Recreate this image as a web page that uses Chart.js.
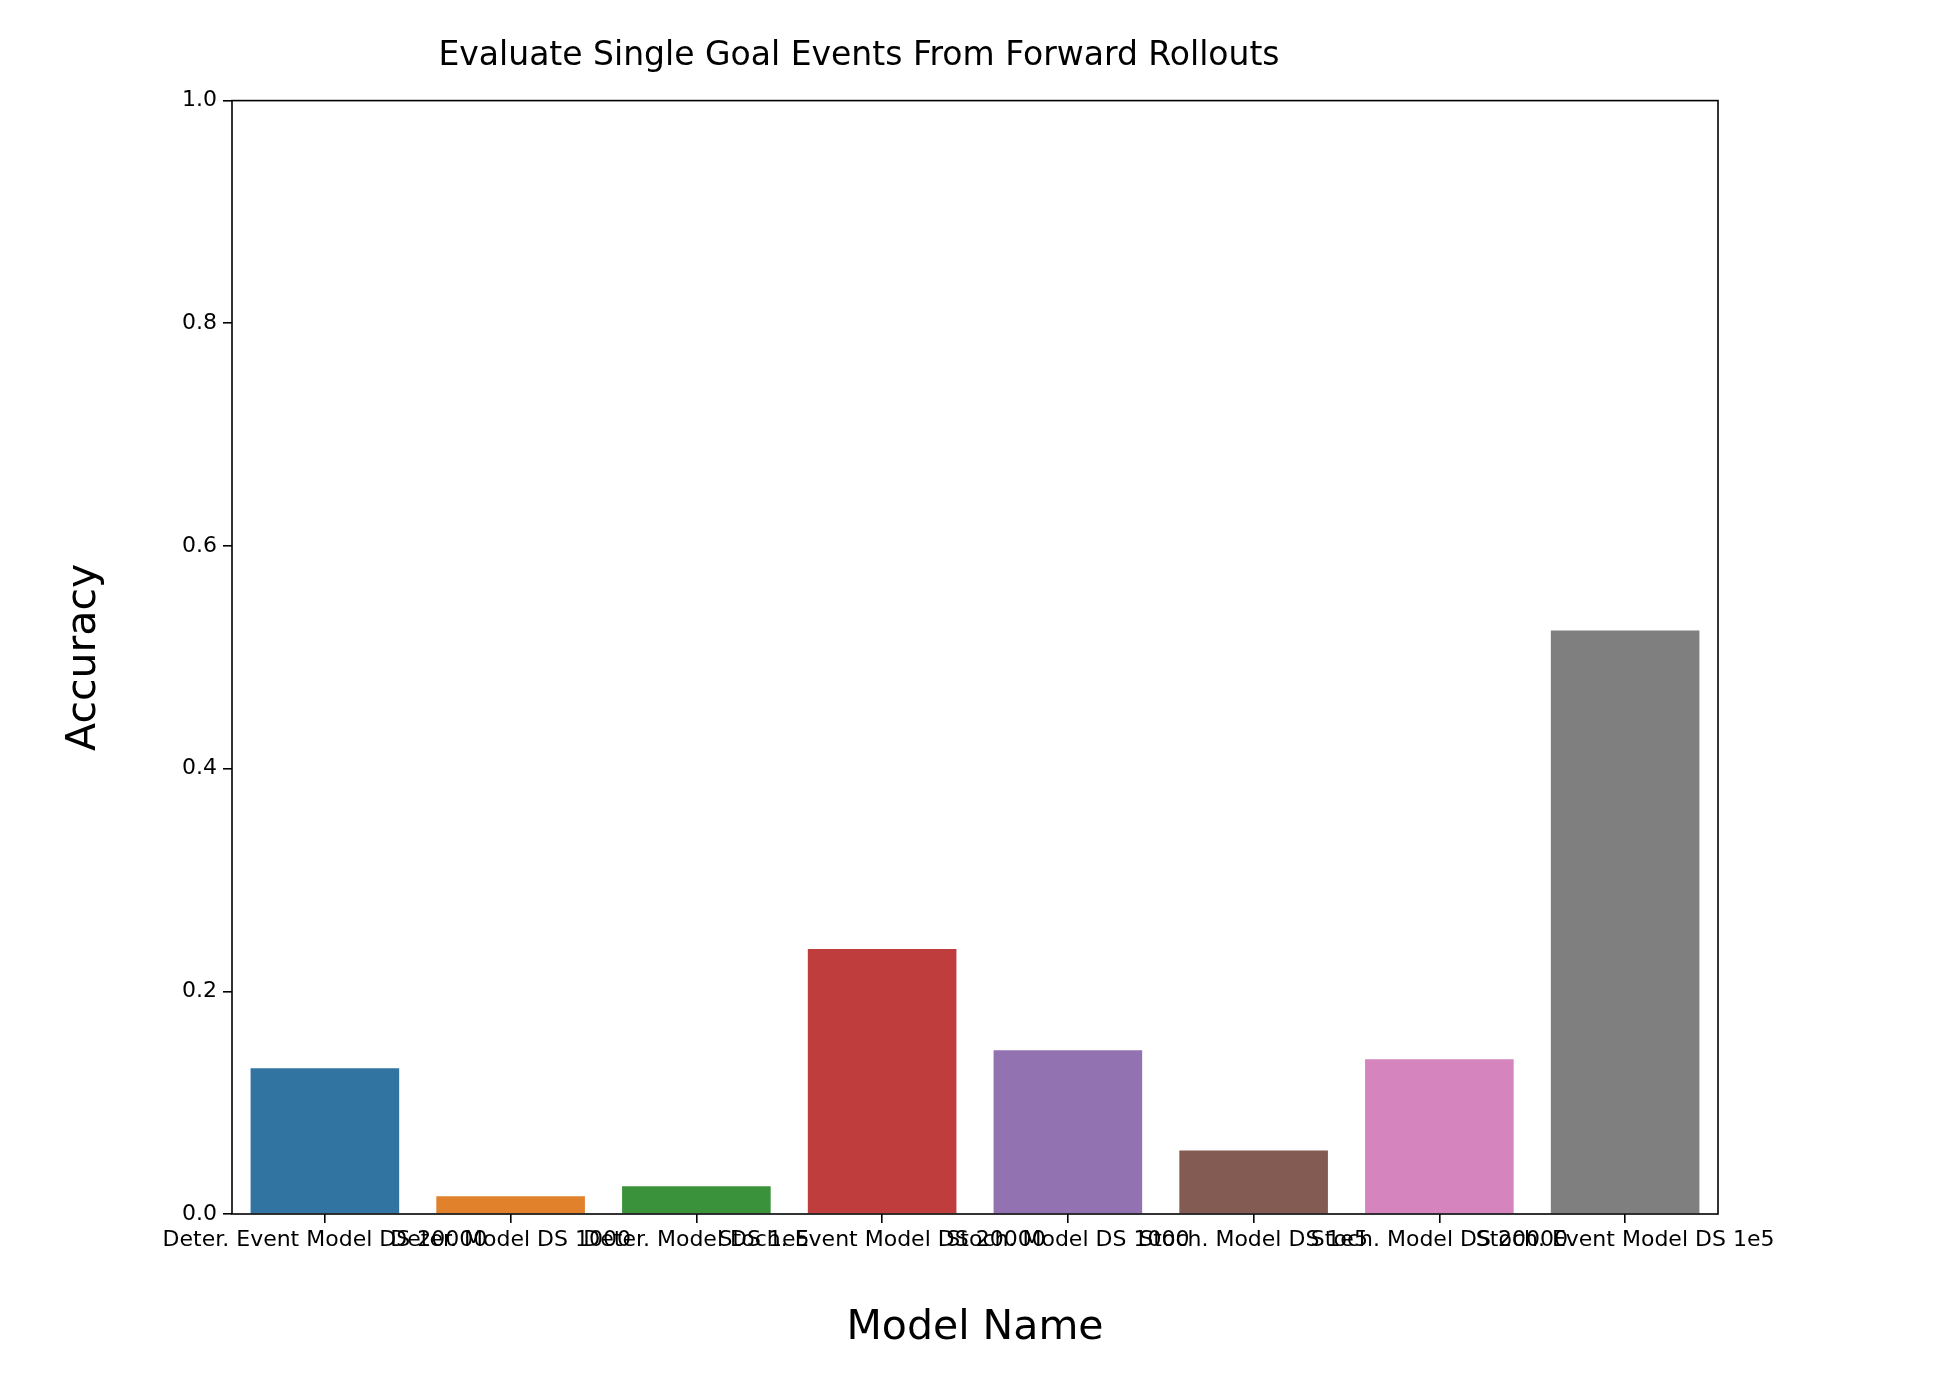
<!DOCTYPE html>
<html>
<head>
<meta charset="utf-8">
<script src="https://cdn.jsdelivr.net/npm/chart.js@4/dist/chart.umd.min.js"></script>
<style>
  html, body { margin: 0; padding: 0; background: #fff; }
  #wrap { width: 1938px; height: 1388px; }
</style>
</head>
<body>
<div id="wrap"><canvas id="chart" width="1938" height="1388"></canvas></div>
<script>
// values
const modelNames = [
    'Deter. Event Model DS 20000',
    'Deter. Model DS 1000',
    'Deter. Model DS 1e5',
    'Stoch. Event Model DS 20000',
    'Stoch. Model DS 1000',
    'Stoch. Model DS 1e5',
    'Stoch. Model DS 20000',
    'Stoch. Event Model DS 1e5'
];
const accuracy = [0.131, 0.016, 0.025, 0.238, 0.147, 0.057, 0.139, 0.524];
const barColors = ['#3274a1', '#e1812c', '#3a923a', '#c03d3e', '#9372b2', '#845b53', '#d684bd', '#7f7f7f'];
const yTicks = [0, 0.2, 0.4, 0.6, 0.8, 1.0];

const font = 'DejaVu Sans';

// black frame round the plot area
const frame = {
    id: 'frame',
    afterDraw(chart) {
        const a = chart.chartArea, ctx = chart.ctx;
        ctx.save();
        ctx.strokeStyle = '#000';
        ctx.lineWidth = 1.6;
        ctx.strokeRect(a.left, a.top, a.right - a.left, a.bottom - a.top);
        ctx.restore();
    }
};

new Chart(document.getElementById('chart'), {
    type: 'bar',
    data: {
        labels: modelNames,
        datasets: [{
            data: accuracy,
            backgroundColor: barColors,
            barPercentage: 0.8,
            categoryPercentage: 1.0
        }]
    },
    options: {
        responsive: false,
        devicePixelRatio: 1,
        animation: false,
        layout: { padding: { left: 0, right: 220, top: 0, bottom: 0 } },
        plugins: {
            legend: { display: false },
            tooltip: { enabled: false },
            title: {
                display: true,
                text: 'Evaluate Single Goal Events From Forward Rollouts',
                color: '#000',
                font: { family: font, size: 33, weight: 'normal' },
                padding: { top: 37, bottom: 24 }
            }
        },
        scales: {
            x: {
                grid: { offset: false, drawOnChartArea: false, tickLength: 9, color: '#000', lineWidth: 1.6 },
                border: { display: false },
                ticks: {
                    autoSkip: false, maxRotation: 0, minRotation: 0,
                    color: '#000', font: { family: font, size: 22 }, padding: 4
                },
                title: {
                    display: true, text: 'Model Name', color: '#000',
                    font: { family: font, size: 41 }, padding: { top: 0, bottom: 35 }
                },
                afterFit(axis) { axis.height = 174; }
            },
            y: {
                min: 0, max: 1,
                afterBuildTicks(axis) { axis.ticks = yTicks.map(v => ({ value: v })); },
                grid: { drawOnChartArea: false, tickLength: 9, color: '#000', lineWidth: 1.6 },
                border: { display: false },
                ticks: {
                    color: '#000', font: { family: font, size: 22 }, padding: 6,
                    callback: v => v.toFixed(1)
                },
                title: {
                    display: true, text: 'Accuracy', color: '#000',
                    font: { family: font, size: 41 }, padding: { top: 60, bottom: 0 }
                },
                afterFit(axis) { axis.width = 232; }
            }
        }
    },
    plugins: [frame]
});
</script>
</body>
</html>
